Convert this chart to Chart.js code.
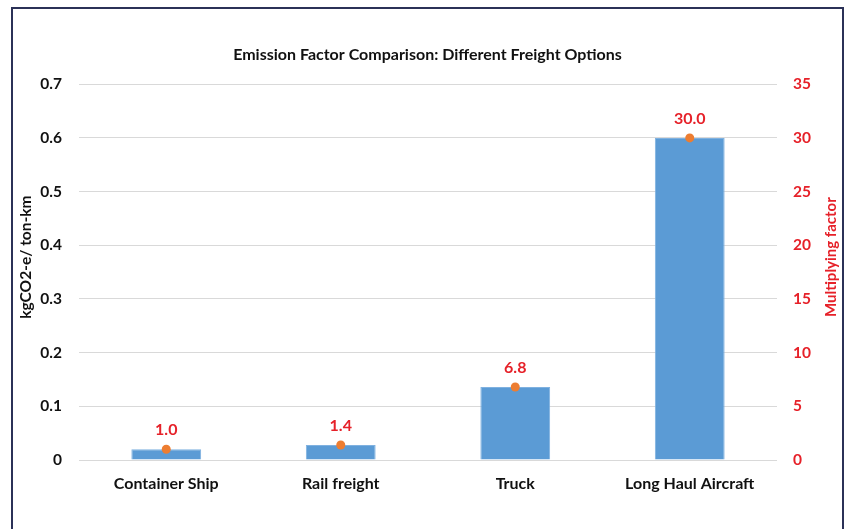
<!DOCTYPE html>
<html>
<head>
<meta charset="utf-8">
<script src="https://cdn.jsdelivr.net/npm/chart.js@4.4.1/dist/chart.umd.min.js"></script>
<style>
  html, body { margin: 0; padding: 0; background: #fff; overflow: hidden; }
  #frame {
    position: absolute; left: 11px; top: 7px;
    width: 829px; height: 522px;
    border-left: 2px solid #2B3157; border-top: 2px solid #2B3157; border-right: 2px solid #2B3157;
  }
  canvas { display: block; }
</style>
</head>
<body>
<div id="frame"><canvas id="freightChart" width="829" height="520"></canvas></div>
<script>
const categories = ["Container Ship", "Rail freight", "Truck", "Long Haul Aircraft"];
const emissionFactors = [0.02, 0.028, 0.136, 0.6];
const multiplyingFactors = [1.0, 1.4, 6.8, 30.0];

const FONT = "Lato, 'Liberation Sans', sans-serif";
const RED = '#E62129';
const DARK = '#111111';

// draws value labels above the orange points plus the two rotated axis titles
const labelPlugin = {
  id: 'freightLabels',
  afterDatasetsDraw(chart) {
    const ctx = chart.ctx;
    const meta = chart.getDatasetMeta(0);
    ctx.save();
    ctx.font = `bold 16px ${FONT}`;
    ctx.fillStyle = RED;
    ctx.textAlign = 'center';
    ctx.textBaseline = 'middle';
    meta.data.forEach((pt, i) => {
      ctx.fillText(multiplyingFactors[i].toFixed(1), pt.x, pt.y - 19);
    });

    const area = chart.chartArea;
    const midY = (area.top + area.bottom) / 2 - 15;
    ctx.font = `bold 15.5px ${FONT}`;
    ctx.fillStyle = DARK;
    ctx.translate(13, midY);
    ctx.rotate(-Math.PI / 2);
    ctx.fillText("kgCO2-e/ ton-km", 0, 0);
    ctx.restore();

    ctx.save();
    ctx.font = `bold 15px ${FONT}`;
    ctx.fillStyle = RED;
    ctx.textAlign = 'center';
    ctx.textBaseline = 'middle';
    ctx.translate(818, midY);
    ctx.rotate(-Math.PI / 2);
    ctx.fillText("Multiplying factor", 0, 0);
    ctx.restore();
  }
};

new Chart(document.getElementById('freightChart'), {
  data: {
    labels: categories,
    datasets: [
      {
        type: 'line',
        label: 'Multiplying factor',
        data: multiplyingFactors,
        showLine: false,
        pointRadius: 4.5,
        pointBackgroundColor: '#ED7D31',
        pointBorderColor: '#ED7D31',
        pointBorderWidth: 0,
        yAxisID: 'y2',
        order: 0
      },
      {
        type: 'bar',
        label: 'kgCO2-e/ ton-km',
        data: emissionFactors,
        backgroundColor: '#5B9BD5',
        borderColor: '#7FB1E0',
        borderWidth: 1,
        barPercentage: 0.4,
        categoryPercentage: 1,
        yAxisID: 'y',
        order: 1
      }
    ]
  },
  options: {
    responsive: false,
    animation: false,
    layout: { padding: { top: 0, left: 0, right: 0, bottom: 0 } },
    plugins: {
      legend: { display: false },
      tooltip: { enabled: false },
      title: {
        display: true,
        text: "Emission Factor Comparison: Different Freight Options",
        color: DARK,
        font: { family: FONT, size: 16, weight: 'bold' },
        padding: { top: 36, bottom: 20 }
      }
    },
    scales: {
      x: {
        grid: { display: false, drawTicks: false },
        border: { display: false },
        ticks: { color: DARK, font: { family: FONT, size: 16, weight: 'bold' }, padding: 14, maxRotation: 0 },
        afterFit: scale => { scale.height = 69; }
      },
      y: {
        position: 'left',
        min: 0,
        max: 0.7,
        ticks: { stepSize: 0.1, color: DARK, padding: 17, font: { family: FONT, size: 15.5, weight: 'bold' },
          callback: v => v === 0 ? '0' : v.toFixed(1) },
        grid: { color: '#D9D9D9', lineWidth: 1, drawTicks: false },
        border: { display: false },
        afterFit: scale => { scale.width = 66; }
      },
      y2: {
        position: 'right',
        min: 0,
        max: 35,
        ticks: { stepSize: 5, color: RED, padding: 16, font: { family: FONT, size: 15.5, weight: 'bold' } },
        grid: { display: false, drawTicks: false },
        border: { display: false },
        afterFit: scale => { scale.width = 65; }
      }
    }
  },
  plugins: [labelPlugin]
});
</script>
</body>
</html>
